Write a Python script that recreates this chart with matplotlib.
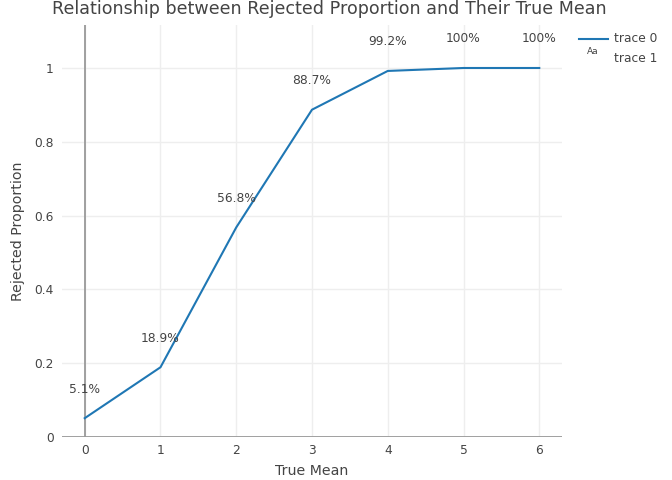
import matplotlib
matplotlib.use("Agg")
import matplotlib.pyplot as plt
from matplotlib.lines import Line2D

true_mean = [0, 1, 2, 3, 4, 5, 6]
rejected = [0.051, 0.189, 0.568, 0.887, 0.992, 1.0, 1.0]
labels = ["5.1%", "18.9%", "56.8%", "88.7%", "99.2%", "100%", "100%"]
xticks = [0, 1, 2, 3, 4, 5, 6]
yticks = [0, 0.2, 0.4, 0.6, 0.8, 1.0]
ytick_labels = ["0", "0.2", "0.4", "0.6", "0.8", "1"]

plt.rcParams['font.family'] = ['DejaVu Sans']
TXT = '#444444'
W, H = 672, 480

fig = plt.figure(figsize=(6.72, 4.8), dpi=100)
ax = fig.add_axes([62/W, 43/H, 500/W, 412/H])

ax.set_xlim(-0.3, 6.3)
ax.set_ylim(0, 1.1165)

for s in ax.spines.values():
    s.set_visible(False)

ax.set_xticks(xticks)
ax.set_yticks(yticks)
ax.set_yticklabels(ytick_labels)
ax.tick_params(length=0, labelsize=8.8, colors=TXT)
ax.tick_params(axis='x', pad=5)
ax.tick_params(axis='y', pad=6)
ax.grid(True, color='#eeeeee', linewidth=1)
ax.set_axisbelow(True)

ax.axvline(0, color='#999999', linewidth=1.3, zorder=2)
ax.axhline(0, color='#999999', linewidth=1.3, zorder=2)

ax.plot(true_mean, rejected, color='#1f77b4', linewidth=1.5, zorder=3)

for x, y, t in zip(true_mean, rejected, labels):
    ax.annotate(t, (x, y), xytext=(0, 20.9), textcoords='offset points',
                ha='center', va='center', fontsize=8.8, color=TXT)

fig.text(312/W, 1 - 471/H, 'True Mean', fontsize=10.2, color=TXT,
         ha='center', va='center')
fig.text(18/W, 1 - 231/H, 'Rejected Proportion', fontsize=10.2, color=TXT,
         ha='center', va='center', rotation=90)

fig.text(329/W, 1 - 9/H, 'Relationship between Rejected Proportion and Their True Mean',
         ha='center', va='center', fontsize=12.65, color=TXT)

# legend
fig.add_artist(Line2D([579/W, 608/W], [1 - 39/H, 1 - 39/H],
                      color='#1f77b4', linewidth=1.5, transform=fig.transFigure))
fig.text(614/W, 1 - 39/H, 'trace 0', fontsize=8.8, color=TXT, va='center', ha='left')
fig.text(593/W, 1 - 52/H, 'Aa', fontsize=6.5, color=TXT, va='center', ha='center')
fig.text(614/W, 1 - 59/H, 'trace 1', fontsize=8.8, color=TXT, va='center', ha='left')

fig.savefig('out.png', dpi=100)
